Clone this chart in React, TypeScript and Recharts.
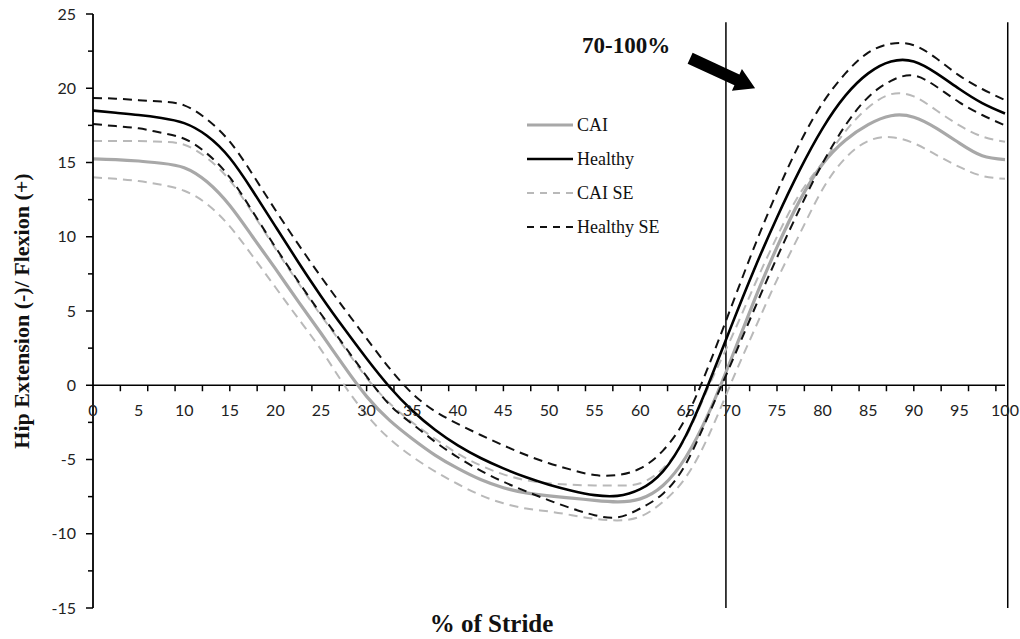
import React from 'react';
import {
  LineChart,
  Line,
  XAxis,
  YAxis,
  ReferenceLine,
  ReferenceDot,
  Legend
} from 'recharts';

// hip sagittal angle over the stride, sampled every 2.5 %
const stride = [
  0, 2.5, 5, 7.5, 10, 12.5, 15, 17.5, 20, 22.5, 25, 27.5, 30, 32.5, 35, 37.5, 40,
  42.5, 45, 47.5, 50, 52.5, 55, 57.5, 60, 62.5, 65, 67.5, 70, 72.5, 75, 77.5, 80,
  82.5, 85, 87.5, 90, 92.5, 95, 97.5, 100
];
const cai = [
  15.25, 15.2, 15.1, 14.95, 14.65, 13.7, 12.1, 10.0, 7.85, 5.65, 3.5, 1.3, -0.75,
  -2.35, -3.6, -4.7, -5.6, -6.35, -6.9, -7.25, -7.45, -7.6, -7.75, -7.85, -7.65,
  -6.75, -4.85, -1.9, 1.8, 5.7, 9.3, 12.45, 14.9, 16.5, 17.55, 18.15, 18.05, 17.3,
  16.3, 15.45, 15.2
];
const healthy = [
  18.5, 18.35, 18.2, 18.0, 17.65, 16.8, 15.3, 13.1, 10.7, 8.3, 6.0, 3.85, 1.8,
  -0.1, -1.7, -3.0, -4.05, -4.9, -5.6, -6.2, -6.7, -7.1, -7.4, -7.45, -7.0, -5.8,
  -3.4, 0.1, 4.0, 7.8, 11.3, 14.5, 17.3, 19.5, 21.0, 21.8, 21.8, 21.0, 19.95,
  19.0, 18.3
];
const caiSeUpper = [
  16.45, 16.45, 16.45, 16.4, 16.2, 15.3, 13.8, 11.6, 9.2, 6.9, 4.7, 2.6, 0.5,
  -1.2, -2.5, -3.6, -4.6, -5.4, -6.0, -6.4, -6.6, -6.7, -6.75, -6.75, -6.6, -5.6,
  -3.5, -0.1, 3.2, 6.7, 10.0, 12.9, 15.0, 17.1, 18.7, 19.6, 19.45, 18.5, 17.5,
  16.75, 16.4
];
const caiSeLower = [
  14.0, 13.9, 13.75, 13.5, 13.1, 12.2, 10.7, 8.7, 6.6, 4.5, 2.4, 0.05, -2.0, -3.6,
  -4.8, -5.8, -6.65, -7.4, -7.95, -8.3, -8.5, -8.75, -9.0, -9.1, -8.85, -7.85,
  -6.2, -3.4, 0.2, 3.7, 7.1, 10.2, 13.2, 15.3, 16.45, 16.7, 16.3, 15.5, 14.7, 14.1,
  13.9
];
const healthySeUpper = [
  19.35, 19.3, 19.2, 19.1, 18.85, 17.9, 16.4, 14.2, 11.8, 9.5, 7.3, 5.2, 3.15,
  1.15, -0.55, -1.75, -2.6, -3.35, -4.05, -4.7, -5.25, -5.7, -6.05, -6.05, -5.6,
  -4.4, -2.2, 1.3, 5.3, 9.3, 13.0, 16.3, 19.0, 21.0, 22.4, 23.0, 22.9, 22.0,
  20.85, 19.95, 19.2
];
const healthySeLower = [
  17.6, 17.45, 17.3, 17.0, 16.6, 15.6, 14.0, 11.7, 9.3, 7.0, 4.8, 2.7, 0.6, -1.3,
  -2.6, -3.8, -4.85, -5.75, -6.5, -7.15, -7.75, -8.3, -8.75, -8.9, -8.3, -7.3,
  -5.3, -2.0, 1.5, 5.1, 8.6, 11.9, 14.95, 17.5, 19.4, 20.5, 20.85, 20.1, 19.05,
  18.2, 17.5
];

const yTicks = [
  -15, -12.5, -10, -7.5, -5, -2.5, 0, 2.5, 5, 7.5, 10, 12.5, 15, 17.5, 20, 22.5, 25
];
const xTickMarks = [
  3, 6, 9, 12, 15, 18, 21, 24, 27, 30, 33, 36, 39, 42, 45, 48, 51, 54, 57, 60, 63,
  66, 69, 72, 75, 78, 81, 84, 87, 90, 93, 96, 99
];
const xTickLabels = [
  0, 5, 10, 15, 20, 25, 30, 35, 40, 45, 50, 55, 60, 65, 70, 75, 80, 85, 90, 95, 100
];
// phase markers (start of 70-100 % window and end of stride)
const phaseLines = [69.4, 100.3];
const phaseTop = 24.45;
const arrowTip = { x: 72.6, y: 20.0 };
const arrowText = '70-100%';

const data = stride.map((s, i) => ({
  stride: s,
  cai: cai[i],
  healthy: healthy[i],
  caiSeUpper: caiSeUpper[i],
  caiSeLower: caiSeLower[i],
  healthySeUpper: healthySeUpper[i],
  healthySeLower: healthySeLower[i]
}));

const tickFont = 'Lato, "DejaVu Sans", sans-serif';
const serif = '"Liberation Serif", "Times New Roman", serif';

const GREY = '#a8a8a8';
const GREY_SE = '#b9b9b9';
const DASH = '9 6';

const lines = [
  { key: 'caiSeUpper', color: GREY_SE, width: 2, dash: DASH },
  { key: 'caiSeLower', color: GREY_SE, width: 2, dash: DASH },
  { key: 'cai', color: GREY, width: 3.2 },
  { key: 'healthySeUpper', color: '#111', width: 2, dash: DASH },
  { key: 'healthySeLower', color: '#111', width: 2, dash: DASH },
  { key: 'healthy', color: '#000', width: 2.6 }
];

const legendRows = [
  { name: 'CAI', color: GREY, width: 3.2 },
  { name: 'Healthy', color: '#000', width: 2.6 },
  { name: 'CAI SE', color: GREY_SE, width: 2, dash: '7 6' },
  { name: 'Healthy SE', color: '#111', width: 2, dash: '7 6' }
];

const YTick = props => {
  const { x, y, payload } = props;
  const major = payload.value % 5 === 0;
  return (
    <g>
      <line
        x1={x - (major ? 7 : 5)}
        y1={y}
        x2={x}
        y2={y}
        stroke="#000"
        strokeWidth={1.5}
      />
      {major && (
        <text
          x={x - 17}
          y={y}
          dy={5.5}
          textAnchor="end"
          fontSize={16}
          fontFamily={tickFont}
          fill="#222"
        >
          {payload.value}
        </text>
      )}
    </g>
  );
};

const YTitle = props => {
  const vb = props.viewBox || { x: 0, y: 14, width: 93, height: 594 };
  const cx = vb.x + 29;
  const cy = vb.y + vb.height / 2;
  return (
    <text
      x={cx}
      y={cy}
      transform={`rotate(-90, ${cx}, ${cy})`}
      textAnchor="middle"
      fontSize={22}
      fontWeight="bold"
      fontFamily={serif}
      fill="#111"
    >
      Hip Extension (-)/ Flexion (+)
    </text>
  );
};

const XTitle = props => {
  const vb = props.viewBox || { x: 93, y: 608, width: 912, height: 31 };
  return (
    <text
      x={vb.x + vb.width * 0.437}
      y={vb.y + 24}
      textAnchor="middle"
      fontSize={25}
      fontWeight="bold"
      fontFamily={serif}
      fill="#111"
    >
      % of Stride
    </text>
  );
};

const tickMark = ({ cx, cy }) => (
  <line x1={cx} y1={cy} x2={cx} y2={cy + 6} stroke="#000" strokeWidth={1.5} />
);

const tickLabel = value => ({ cx, cy }) => (
  <text
    x={cx}
    y={cy + 31}
    textAnchor="middle"
    fontSize={16}
    fontFamily={tickFont}
    fill="#222"
  >
    {value}
  </text>
);

// thick arrow pointing at the late-stride window, tip at (cx, cy)
const arrowShape = ({ cx, cy }) => {
  const pts = [
    [-62.5, -35.4],
    [-15.7, -13.8],
    [-13.2, -19.3],
    [0, 0],
    [-23.2, 2.5],
    [-20.7, -3.0],
    [-67.5, -24.6]
  ]
    .map(([dx, dy]) => `${cx + dx},${cy + dy}`)
    .join(' ');
  return (
    <g>
      <polygon points={pts} fill="#000" />
      <text
        x={cx - 129}
        y={cy - 35}
        textAnchor="middle"
        fontSize={23}
        fontWeight="bold"
        fontFamily={serif}
        fill="#111"
      >
        {arrowText}
      </text>
    </g>
  );
};

const LegendBox = () => (
  <div style={{ fontFamily: serif, fontSize: 18, color: '#111' }}>
    {legendRows.map(r => (
      <div
        key={r.name}
        style={{ display: 'flex', alignItems: 'center', height: 34 }}
      >
        <svg width={46} height={6}>
          <line
            x1={0}
            y1={3}
            x2={46}
            y2={3}
            stroke={r.color}
            strokeWidth={r.width}
            strokeDasharray={r.dash}
          />
        </svg>
        <span style={{ marginLeft: 4 }}>{r.name}</span>
      </div>
    ))}
  </div>
);

export default function App() {
  return (
    <div
      style={{
        position: 'absolute',
        left: 0,
        top: 0,
        width: 1020,
        height: 639,
        background: '#fff'
      }}
    >
      <LineChart
        width={1020}
        height={639}
        data={data}
        margin={{ top: 14, right: 15, bottom: 0, left: 0 }}
      >
        <XAxis
          dataKey="stride"
          type="number"
          domain={[0, 100]}
          axisLine={false}
          tickLine={false}
          tick={false}
          height={31}
          label={XTitle}
        />
        <YAxis
          type="number"
          domain={[-15, 25]}
          ticks={yTicks}
          interval={0}
          width={93}
          tickSize={0}
          tickMargin={0}
          tickLine={false}
          tick={<YTick />}
          axisLine={{ stroke: '#000', strokeWidth: 1.8 }}
          label={YTitle}
        />
        <Legend
          layout="vertical"
          align="center"
          verticalAlign="middle"
          content={<LegendBox />}
          wrapperStyle={{ left: 527, top: 108, width: 'auto' }}
        />
        <ReferenceLine
          segment={[
            { x: 0, y: 0 },
            { x: 100, y: 0 }
          ]}
          stroke="#000"
          strokeWidth={1.6}
        />
        {phaseLines.map(p => (
          <ReferenceLine
            key={'p' + p}
            segment={[
              { x: p, y: -15 },
              { x: p, y: phaseTop }
            ]}
            ifOverflow="visible"
            stroke="#000"
            strokeWidth={1.5}
          />
        ))}
        {xTickMarks.map(t => (
          <ReferenceDot key={'m' + t} x={t} y={0} r={0} shape={tickMark} />
        ))}
        {xTickLabels.map(t => (
          <ReferenceDot
            key={'l' + t}
            x={t}
            y={0}
            r={0}
            shape={tickLabel(t)}
          />
        ))}
        {lines.map(l => (
          <Line
            key={l.key}
            type="natural"
            dataKey={l.key}
            stroke={l.color}
            strokeWidth={l.width}
            strokeDasharray={l.dash}
            dot={false}
            activeDot={false}
            isAnimationActive={false}
          />
        ))}
        <ReferenceDot
          x={arrowTip.x}
          y={arrowTip.y}
          r={0}
          ifOverflow="visible"
          shape={arrowShape}
        />
      </LineChart>
    </div>
  );
}
